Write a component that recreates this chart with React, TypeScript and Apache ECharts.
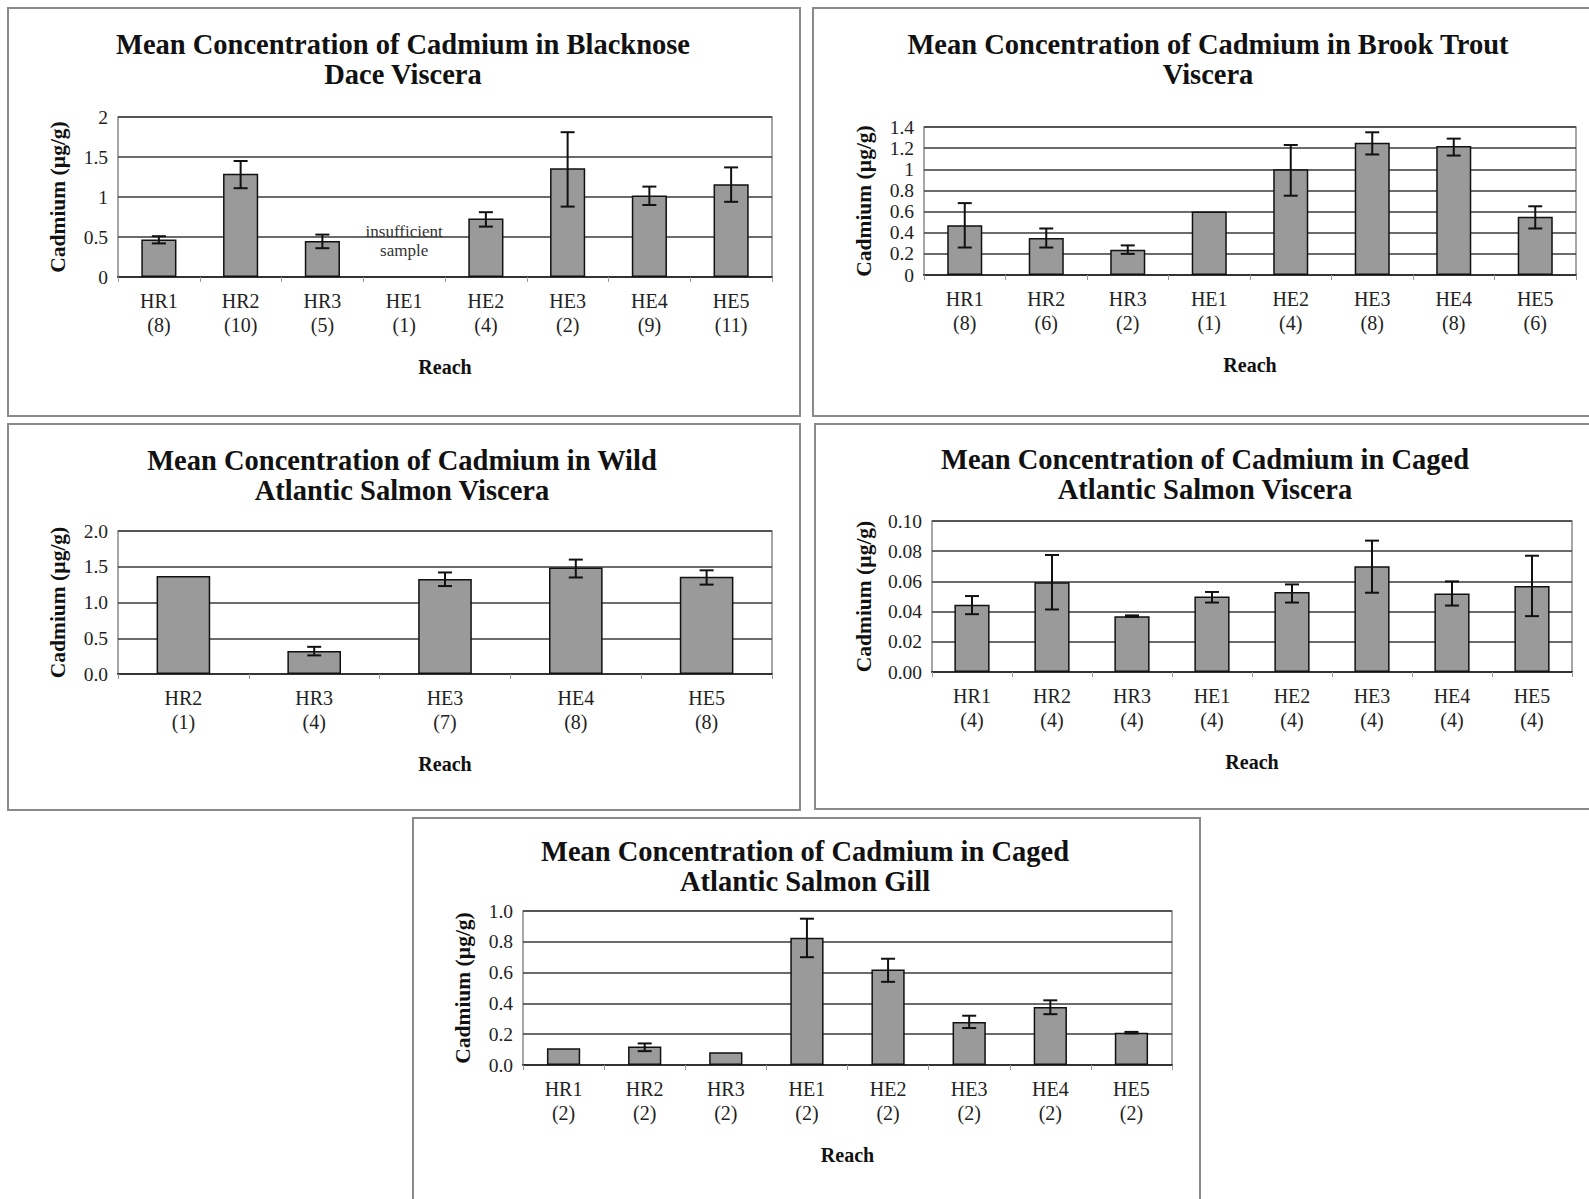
import React, { useEffect, useRef } from "react";
import * as echarts from "echarts";

// ---- Data ----
// Chart 1: Blacknose Dace Viscera
const reach1 = ["HR1", "HR2", "HR3", "HE1", "HE2", "HE3", "HE4", "HE5"];
const n1 = [8, 10, 5, 1, 4, 2, 9, 11];
const mean1 = [0.47, 1.29, 0.45, null, 0.73, 1.36, 1.02, 1.16];
const lo1 = [0.42, 1.11, 0.36, null, 0.63, 0.88, 0.9, 0.94];
const hi1 = [0.51, 1.45, 0.53, null, 0.81, 1.81, 1.13, 1.37];

// Chart 2: Brook Trout Viscera
const reach2 = ["HR1", "HR2", "HR3", "HE1", "HE2", "HE3", "HE4", "HE5"];
const n2 = [8, 6, 2, 1, 4, 8, 8, 6];
const mean2 = [0.47, 0.35, 0.24, 0.6, 1.0, 1.25, 1.22, 0.55];
const lo2 = [0.26, 0.26, 0.2, null, 0.75, 1.14, 1.13, 0.44];
const hi2 = [0.68, 0.44, 0.28, null, 1.23, 1.35, 1.29, 0.65];

// Chart 3: Wild Atlantic Salmon Viscera
const reach3 = ["HR2", "HR3", "HE3", "HE4", "HE5"];
const n3 = [1, 4, 7, 8, 8];
const mean3 = [1.37, 0.32, 1.33, 1.49, 1.36];
const lo3 = [null, 0.26, 1.23, 1.35, 1.25];
const hi3 = [null, 0.38, 1.42, 1.6, 1.45];

// Chart 4: Caged Atlantic Salmon Viscera
const reach4 = ["HR1", "HR2", "HR3", "HE1", "HE2", "HE3", "HE4", "HE5"];
const n4 = [4, 4, 4, 4, 4, 4, 4, 4];
const mean4 = [0.0446, 0.0595, 0.037, 0.05, 0.053, 0.07, 0.052, 0.057];
const lo4 = [0.0383, 0.0414, 0.0365, 0.046, 0.046, 0.0525, 0.044, 0.037];
const hi4 = [0.0503, 0.0775, 0.0375, 0.053, 0.058, 0.087, 0.06, 0.077];

// Chart 5: Caged Atlantic Salmon Gill
const reach5 = ["HR1", "HR2", "HR3", "HE1", "HE2", "HE3", "HE4", "HE5"];
const n5 = [2, 2, 2, 2, 2, 2, 2, 2];
const mean5 = [0.109, 0.12, 0.083, 0.826, 0.62, 0.28, 0.376, 0.21];
const lo5 = [null, 0.09, null, 0.7, 0.54, 0.24, 0.33, 0.205];
const hi5 = [null, 0.14, null, 0.95, 0.69, 0.32, 0.42, 0.215];

const titles = [
  "Mean Concentration of Cadmium in Blacknose\nDace Viscera",
  "Mean Concentration of Cadmium in Brook Trout\nViscera",
  "Mean Concentration of Cadmium in Wild\nAtlantic Salmon Viscera",
  "Mean Concentration of Cadmium in Caged\nAtlantic Salmon Viscera",
  "Mean Concentration of Cadmium in Caged\nAtlantic Salmon Gill",
];

const FONT = "'Liberation Serif', 'Times New Roman', serif";

export default function App() {
  const ref = useRef<HTMLDivElement>(null);

  useEffect(() => {
    if (!ref.current) return;
    const chart = echarts.init(ref.current, undefined, { renderer: "svg" });

    const charts = [
      { reach: reach1, n: n1, mean: mean1, lo: lo1, hi: hi1, max: 2, interval: 0.5, dec: -1,
        grid: { left: 118, top: 117, width: 654, height: 160 }, nameGap: 49, barW: "43%",
        title: { x: 403, y: 30 } },
      { reach: reach2, n: n2, mean: mean2, lo: lo2, hi: hi2, max: 1.4, interval: 0.2, dec: -1,
        grid: { left: 924, top: 127, width: 652, height: 148 }, nameGap: 49, barW: "43%",
        title: { x: 1208, y: 30 } },
      { reach: reach3, n: n3, mean: mean3, lo: lo3, hi: hi3, max: 2, interval: 0.5, dec: 1,
        grid: { left: 118, top: 531, width: 654, height: 143 }, nameGap: 49, barW: "41%",
        title: { x: 402, y: 446 } },
      { reach: reach4, n: n4, mean: mean4, lo: lo4, hi: hi4, max: 0.1, interval: 0.02, dec: 2,
        grid: { left: 932, top: 521, width: 640, height: 151 }, nameGap: 57, barW: "44%",
        title: { x: 1205, y: 445 } },
      { reach: reach5, n: n5, mean: mean5, lo: lo5, hi: hi5, max: 1, interval: 0.2, dec: 1,
        grid: { left: 523, top: 911, width: 649, height: 154 }, nameGap: 49, barW: "41%",
        title: { x: 805, y: 837 } },
    ];

    const grid: any[] = [];
    const xAxis: any[] = [];
    const yAxis: any[] = [];
    const series: any[] = [];
    const graphic: any[] = [];

    // panel borders
    const panels = [
      [8, 8, 792, 408],
      [813, 8, 800, 408],
      [8, 424, 792, 386],
      [815, 424, 800, 385],
      [413, 818, 787, 420],
    ];
    panels.forEach(([x, y, w, h]) => {
      graphic.push({
        type: "rect",
        shape: { x, y, width: w, height: h },
        style: { fill: "none", stroke: "#8a8a8a", lineWidth: 2 },
        silent: true,
      });
    });

    charts.forEach((c, i) => {
      grid.push({ ...c.grid, show: true, borderColor: "#8a8a8a", borderWidth: 1.5, containLabel: false });
      xAxis.push({
        type: "category",
        gridIndex: i,
        data: c.reach,
        name: "Reach",
        nameLocation: "middle",
        nameGap: 80,
        nameTextStyle: { fontFamily: FONT, fontSize: 20, fontWeight: "bold", color: "#111" },
        axisLine: { show: true, lineStyle: { color: "#333", width: 2 } },
        axisTick: { show: true, length: 5, lineStyle: { color: "#999", width: 1 } },
        axisLabel: {
          fontFamily: FONT,
          fontSize: 20,
          color: "#222",
          lineHeight: 24,
          margin: 12,
          interval: 0,
          formatter: (v: string, idx: number) => `${v}\n(${c.n[idx]})`,
        },
      });
      yAxis.push({
        type: "value",
        gridIndex: i,
        min: 0,
        max: c.max,
        interval: c.interval,
        name: "Cadmium (µg/g)",
        nameLocation: "middle",
        nameGap: c.nameGap,
        nameTextStyle: { fontFamily: FONT, fontSize: 21.5, fontWeight: "bold", color: "#111" },
        axisLine: { show: false },
        axisTick: { show: false },
        splitLine: { show: true, lineStyle: { color: "#3a3a3a", width: 1.5 } },
        axisLabel: {
          fontFamily: FONT,
          fontSize: 19.5,
          color: "#222",
          margin: 10,
          formatter: (v: number) => (c.dec < 0 ? String(+v.toFixed(2)) : v.toFixed(c.dec)),
        },
      });
      const bar: any = {
        type: "bar",
        xAxisIndex: i,
        yAxisIndex: i,
        data: c.mean,
        barWidth: c.barW,
        itemStyle: { color: "#9a9a9a", borderColor: "#111", borderWidth: 1.5 },
        z: 2,
      };
      if (i === 0) {
        bar.markPoint = {
          symbol: "circle",
          symbolSize: 0,
          data: [{ coord: ["HE1", 0.45], value: 0 }],
          label: {
            show: true,
            position: "inside",
            formatter: "insufficient\nsample",
            fontFamily: FONT,
            fontSize: 17,
            lineHeight: 19,
            color: "#333",
          },
        };
      }
      series.push(bar);
      const errData: any[] = [];
      c.lo.forEach((l, k) => {
        if (l !== null && c.hi[k] !== null) errData.push([k, l, c.hi[k]]);
      });
      series.push({
        type: "custom",
        xAxisIndex: i,
        yAxisIndex: i,
        data: errData,
        z: 5,
        renderItem: (params: any, api: any) => {
          const x = api.value(0);
          const p1 = api.coord([x, api.value(1)]);
          const p2 = api.coord([x, api.value(2)]);
          const w = 7;
          const st = { stroke: "#111", lineWidth: 2 };
          return {
            type: "group",
            children: [
              { type: "line", shape: { x1: p1[0], y1: p1[1], x2: p2[0], y2: p2[1] }, style: st },
              { type: "line", shape: { x1: p1[0] - w, y1: p1[1], x2: p1[0] + w, y2: p1[1] }, style: st },
              { type: "line", shape: { x1: p2[0] - w, y1: p2[1], x2: p2[0] + w, y2: p2[1] }, style: st },
            ],
          };
        },
      });
      graphic.push({
        type: "text",
        x: c.title.x,
        y: c.title.y,
        style: {
          text: titles[i],
          fontFamily: FONT,
          fontSize: 28.5,
          fontWeight: "bold",
          lineHeight: 29.5,
          fill: "#111",
          textAlign: "center",
          textVerticalAlign: "top",
        },
        silent: true,
      });
    });

    chart.setOption({
      animation: false,
      backgroundColor: "#fff",
      grid,
      xAxis,
      yAxis,
      series,
      graphic,
    });
    return () => chart.dispose();
  }, []);

  return (
    <div
      ref={ref}
      style={{ position: "absolute", left: 0, top: 0, width: 1589, height: 1199, background: "#fff" }}
    />
  );
}
